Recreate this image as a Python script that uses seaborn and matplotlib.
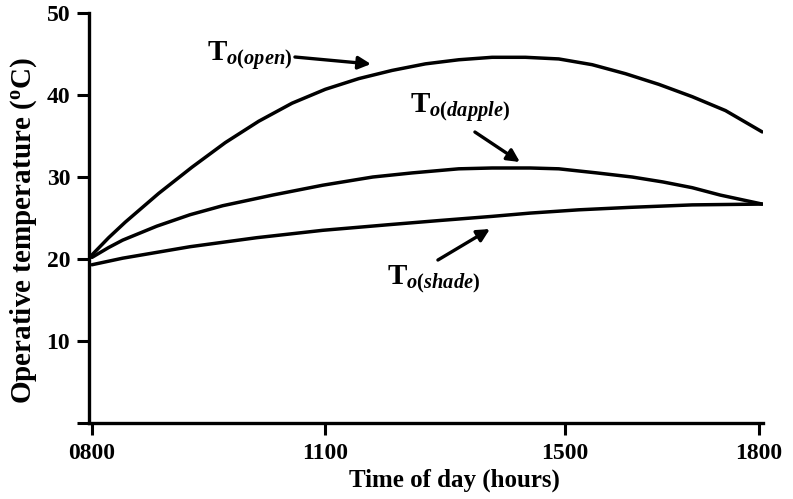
import numpy as np
import pandas as pd
import matplotlib
matplotlib.use("Agg")
import matplotlib.pyplot as plt
import seaborn as sns

# ---- data ----
open_hours = [8.0, 8.25, 8.5, 9.0, 9.5, 10.0, 10.5, 11.0, 11.5, 12.0, 12.5, 13.0, 13.5,
              14.0, 14.5, 15.0, 15.5, 16.0, 16.5, 17.0, 17.5, 18.05]
open_vals = [20.5, 22.6, 24.5, 28.0, 31.2, 34.2, 36.8, 39.0, 40.7, 42.0, 43.0, 43.8, 44.3,
             44.6, 44.6, 44.4, 43.7, 42.6, 41.3, 39.8, 38.1, 35.5]

dapple_hours = [8.0, 8.25, 8.46, 8.97, 9.47, 9.96, 10.71, 11.46, 12.21, 12.8, 13.5, 14.0,
                14.57, 15.0, 15.57, 16.1, 16.56, 17.0, 17.42, 18.05]
dapple_vals = [20.2, 21.4, 22.3, 24.0, 25.4, 26.5, 27.8, 29.0, 30.0, 30.5, 31.0, 31.1,
               31.1, 31.0, 30.5, 30.0, 29.4, 28.7, 27.8, 26.7]

shade_hours = [8.0, 8.46, 9.47, 10.47, 11.46, 12.47, 13.22, 14.0, 14.57, 15.3, 16.07,
               17.0, 18.05]
shade_vals = [19.3, 20.1, 21.5, 22.6, 23.5, 24.2, 24.7, 25.2, 25.6, 26.0, 26.3,
              26.6, 26.7]

x_tick_labels = ["0800", "1100", "1500", "1800"]
y_ticks = [0, 10, 20, 30, 40, 50]
y_tick_labels = ["", "10", "20", "30", "40", "50"]

# ---- style ----
sns.set_style("ticks")
plt.rcParams["font.family"] = ["Liberation Serif", "DejaVu Serif"]
plt.rcParams["font.weight"] = "bold"
plt.rcParams["text.color"] = "black"
plt.rcParams["axes.labelcolor"] = "black"
plt.rcParams["xtick.color"] = "black"
plt.rcParams["ytick.color"] = "black"
plt.rcParams["mathtext.fontset"] = "custom"
plt.rcParams["mathtext.rm"] = "Liberation Serif:bold"
plt.rcParams["mathtext.it"] = "Liberation Serif:italic:bold"
plt.rcParams["mathtext.bf"] = "Liberation Serif:bold"

fig = plt.figure(figsize=(7.93, 4.99), dpi=100)
ax = fig.add_axes([0.1122, 0.1523, 0.962 - 0.1122, 0.8216])

frames = []
for name, h, v in [("open", open_hours, open_vals),
                   ("dapple", dapple_hours, dapple_vals),
                   ("shade", shade_hours, shade_vals)]:
    frames.append(pd.DataFrame({"hour": h, "temp": v, "series": name}))
df = pd.concat(frames, ignore_index=True)

sns.lineplot(data=df, x="hour", y="temp", units="series", estimator=None,
             color="black", linewidth=2.5, sort=False, ax=ax, legend=False)
for ln in ax.get_lines():
    ln.set_solid_joinstyle("round")
    ln.set_solid_capstyle("round")

# pixel -> data mapping helper (for placing annotations like the reference)
def P(px, py):
    return (8 + (px - 92) / 66.7, (423 - py) / 8.2)

ax.set_xlim(P(89, 0)[0], P(763, 0)[0])
ax.set_ylim(0, 50)

ax.set_xticks([P(92, 0)[0], P(325, 0)[0], P(565, 0)[0], P(759, 0)[0]])
ax.set_xticklabels(x_tick_labels)
ax.set_yticks(y_ticks)
ax.set_yticklabels(y_tick_labels)

ax.tick_params(axis="both", direction="out", length=8.5, width=2.2,
               labelsize=17, color="black", labelcolor="black")
ax.tick_params(axis="x", pad=6)
ax.tick_params(axis="y", pad=5)
for lab in ax.get_xticklabels() + ax.get_yticklabels():
    lab.set_fontweight("bold")

for s in ["top", "right"]:
    ax.spines[s].set_visible(False)
for s in ["left", "bottom"]:
    ax.spines[s].set_linewidth(2.4)
    ax.spines[s].set_color("black")

ax.set_xlabel("Time of day (hours)", fontsize=18, fontweight="bold")
ax.set_ylabel(r"Operative temperature ($^{\mathrm{o}}$C)", fontsize=21,
              fontweight="bold")
ax.xaxis.set_label_coords(0.542, -0.112)
ax.xaxis.label.set_va("top")
ax.yaxis.set_label_coords(-0.074, 0.47)

# annotations
labels = [
    (r"$\mathrm{T}_{o(open)}$", (207, 61), (295, 57), (371, 64)),
    (r"$\mathrm{T}_{o(dapple)}$", (410, 113), (475, 132), (520, 162)),
    (r"$\mathrm{T}_{o(shade)}$", (387, 284), (438, 260), (490, 229)),
]
for txt, tpos, a0, a1 in labels:
    ax.text(*P(*tpos), txt, fontsize=21, ha="left", va="baseline", color="black")
    ax.annotate("", xy=P(*a1), xytext=P(*a0),
                arrowprops=dict(arrowstyle="-|>,head_length=0.75,head_width=0.38",
                                color="black", lw=2.4, shrinkA=0, shrinkB=0))

fig.savefig("out.png", dpi=100)
